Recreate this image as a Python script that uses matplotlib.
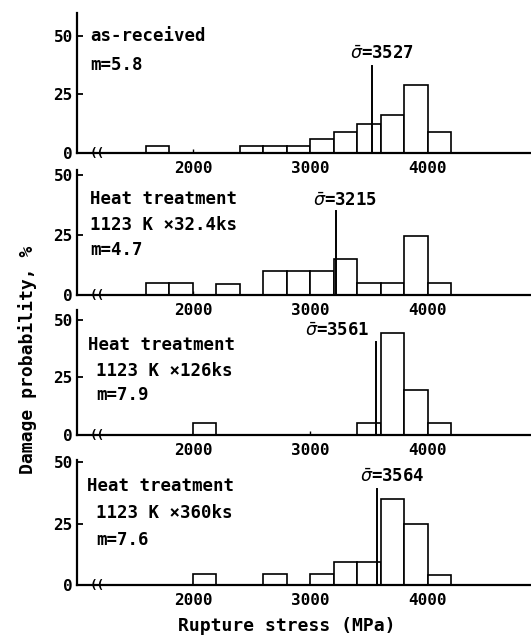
"""Istogrammi della probabilita' di rottura per le quattro condizioni"""
import matplotlib
matplotlib.use("Agg")
from matplotlib import pyplot as plt

# bordo sinistro delle classi (MPa) e altezze (%) per ogni pannello
p1_x = [1600, 2400, 2600, 2800, 3000, 3200, 3400, 3600, 3800, 4000]
p1_h = [3, 3, 3, 3, 6, 9, 12.5, 16, 29, 9]
p2_x = [1600, 1800, 2200, 2600, 2800, 3000, 3200, 3400, 3600, 3800, 4000]
p2_h = [5, 5, 4.5, 10, 10, 10, 15, 5, 5, 24.5, 5]
p3_x = [2000, 3400, 3600, 3800, 4000]
p3_h = [5, 5, 44.5, 19.5, 5]
p4_x = [2000, 2600, 3000, 3200, 3400, 3600, 3800, 4000]
p4_h = [4.5, 4.5, 4.5, 9.5, 9.5, 35, 25, 4]

medie = [3527, 3215, 3561, 3564]
moduli = [5.8, 4.7, 7.9, 7.6]
titoli = [["as-received"],
          ["Heat treatment", "1123 K \u00d732.4ks"],
          ["Heat treatment", "1123 K \u00d7126ks"],
          ["Heat treatment", "1123 K \u00d7360ks"]]
larghezza = 200

W, H = 531, 637
fig = plt.figure(figsize=(W / 100, H / 100), dpi=100)
font = "DejaVu Sans Mono"

# (pixel asse zero, pixel cima, ymax)
pannelli = [(153, 13, 59.6), (295, 170, 52), (435, 310, 54.3), (585, 460, 51)]
# etichetta della media: (x, y, altezza linea)
etichette = [(3609, 42, 37), (3294, 39, 35), (3226, 45, 40.5), (3694, 44, 39)]
# righe di testo a sinistra: y e x (in frazione d'asse)
righe_y = [[49.8, 37.4], [40, 29.2, 18.75], [39, 28, 17.4], [40.2, 29.5, 18.2]]
righe_x = [[0.029, 0.029], [0.029, 0.029, 0.029],
           [0.024, 0.042, 0.042], [0.022, 0.042, 0.042]]

dati = [(p1_x, p1_h), (p2_x, p2_h), (p3_x, p3_h), (p4_x, p4_h)]
left = 77
for i, ((xs, hs), (b, t, ymax)) in enumerate(zip(dati, pannelli)):
    ax = fig.add_axes([left / W, 1 - b / H, (W - left) / W, (b - t) / H])
    ax.bar(xs, hs, width=larghezza, align="edge", facecolor="white",
           edgecolor="black", linewidth=1.2, zorder=2)
    ax.set_xlim(1013, 4877)
    ax.set_ylim(0, ymax)
    for s in ["top", "right"]:
        ax.spines[s].set_visible(False)
    for s in ["left", "bottom"]:
        ax.spines[s].set_linewidth(1.6)
    ax.set_yticks([0, 25, 50])
    ax.set_xticks([2000, 3000, 4000])
    ax.tick_params(axis="y", direction="in", length=4, width=1.3, pad=3)
    ax.tick_params(axis="x", direction="in", length=3, width=1, pad=6)
    for lab in ax.get_xticklabels() + ax.get_yticklabels():
        lab.set_fontfamily(font)
        lab.set_fontweight("bold")
        lab.set_fontsize(11.5)
    ax.patch.set_visible(False)

    # linea della media
    ex, ey, lh = etichette[i]
    ax.plot([medie[i], medie[i]], [0, lh], color="black", lw=1.4, zorder=3)
    ax.text(ex, ey, r"$\bar{\sigma}$" + "=" + str(medie[i]), ha="center",
            va="center", fontsize=12.5, fontweight="bold", family=font)

    # interruzione dell'asse
    ax.text(1185, 0, "((", ha="center", va="center", fontsize=9,
            fontweight="bold", family=font, zorder=4)

    testi = titoli[i] + ["m=" + str(moduli[i])]
    for riga, xx, yy in zip(testi, righe_x[i], righe_y[i]):
        ax.text(xx, yy, riga, transform=ax.get_yaxis_transform(),
                ha="left", va="center", fontsize=12.5, fontweight="bold",
                family=font)

fig.text(28 / W, 1 - 360 / H, "Damage probability, %", rotation=90,
         ha="center", va="center", fontsize=13, fontweight="bold", family=font)
fig.text(287 / W, 1 - 626 / H, "Rupture stress (MPa)", ha="center",
         va="center", fontsize=13, fontweight="bold", family=font)

fig.savefig("out.png", dpi=100)
